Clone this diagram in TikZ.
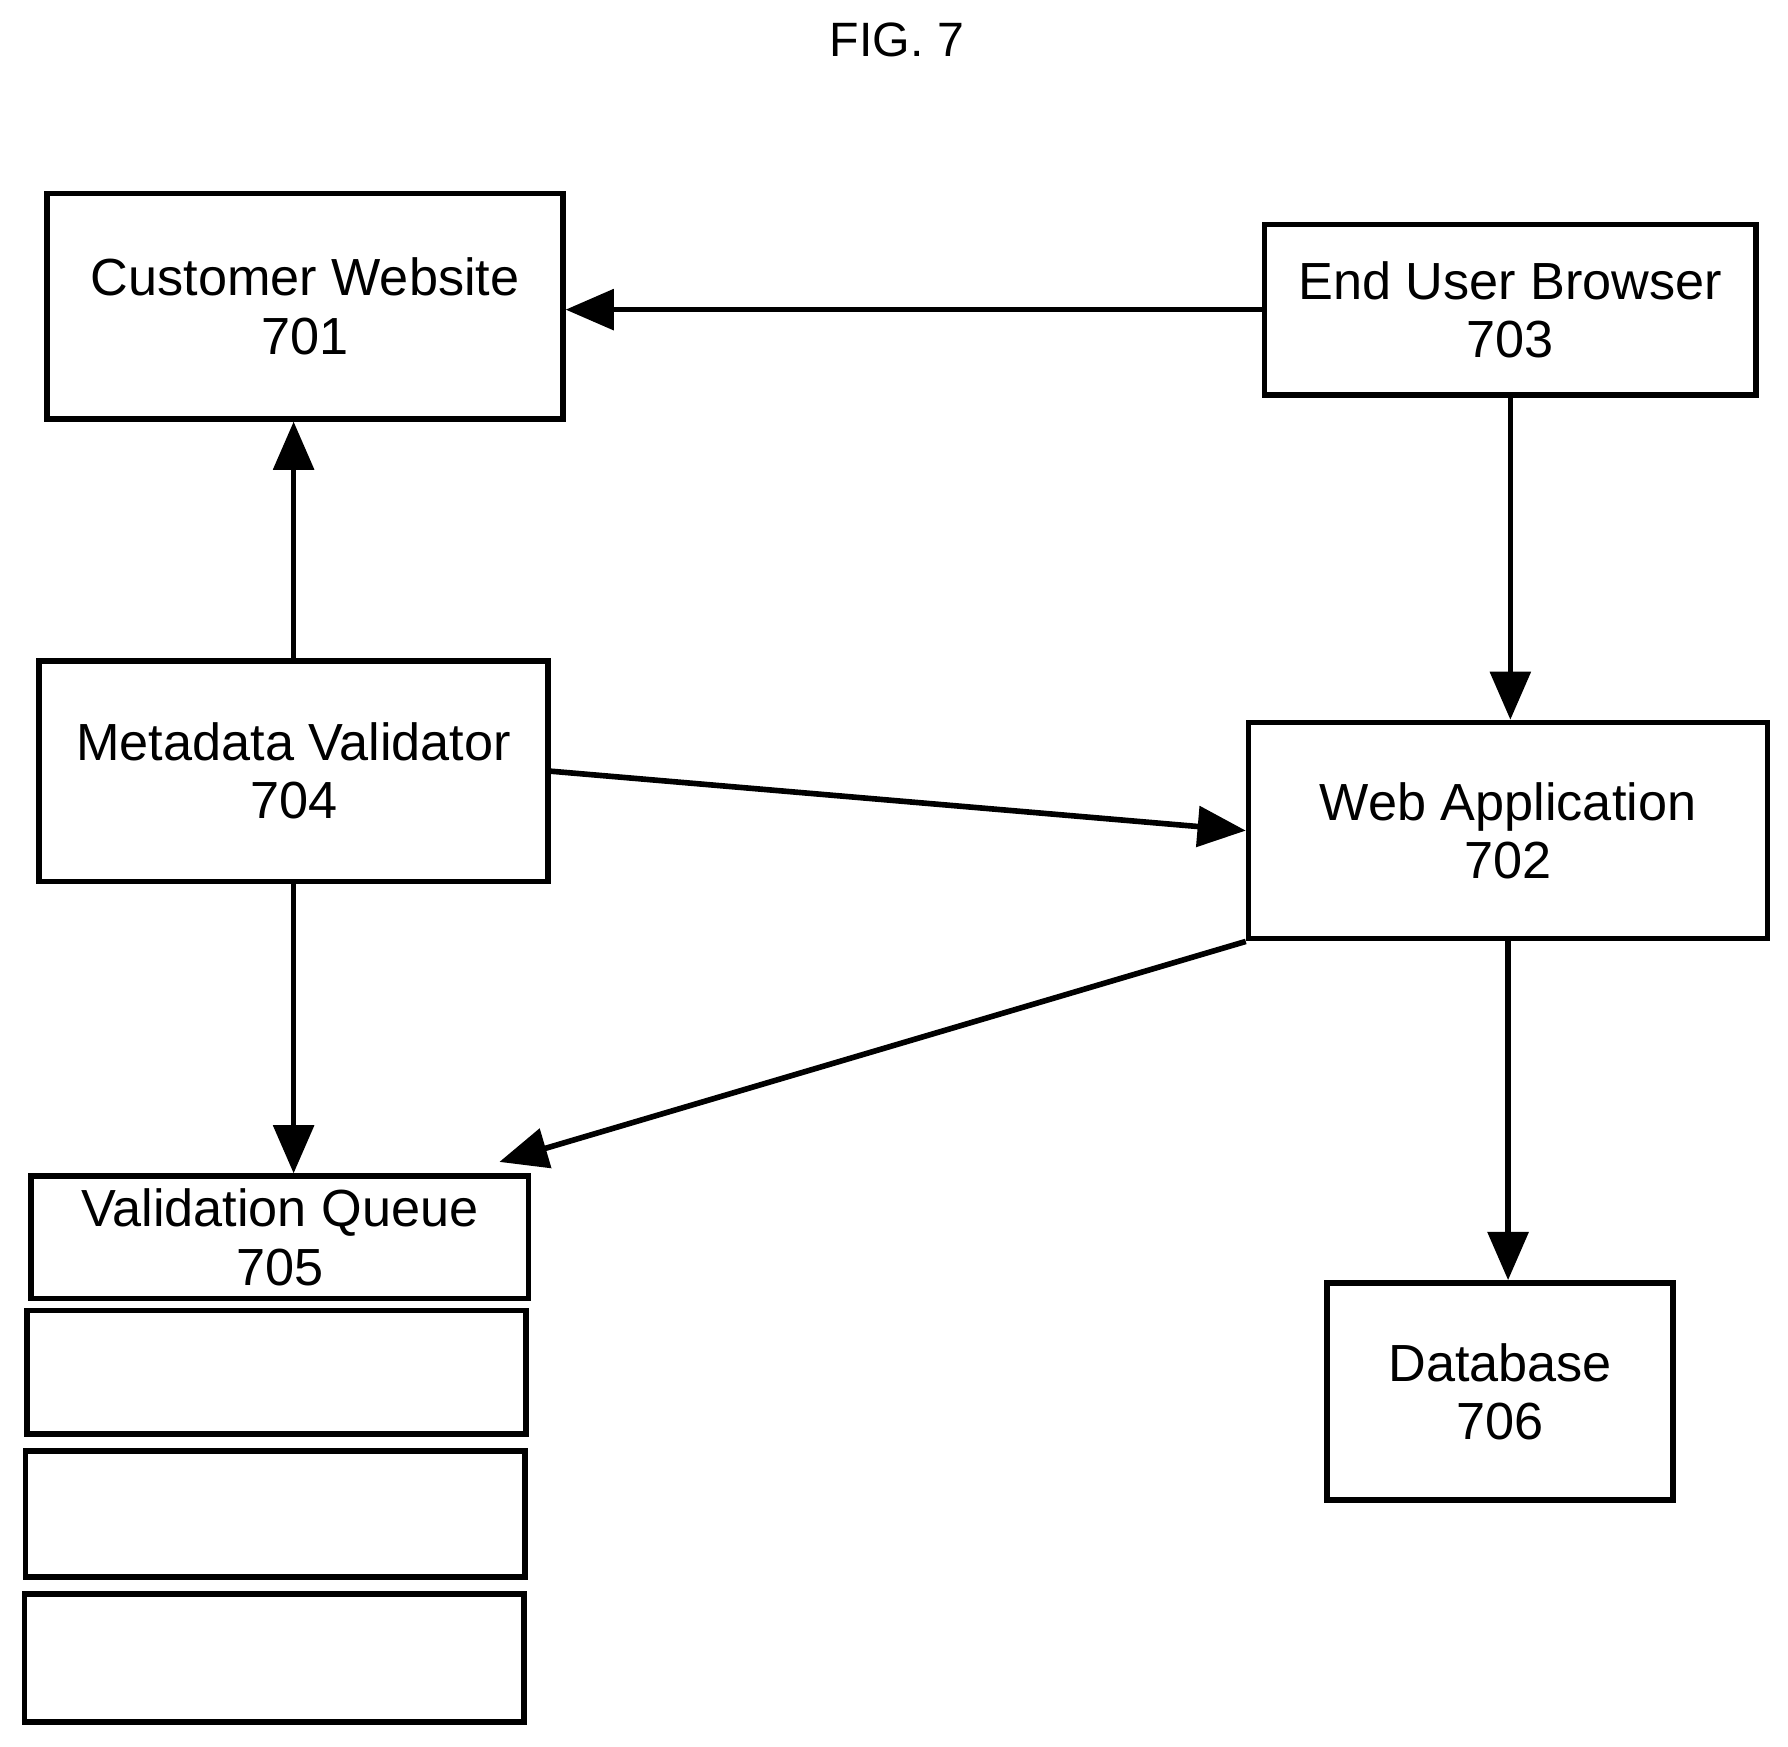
\documentclass[tikz,border=0pt]{standalone}
\usepackage{fontspec}
\setmainfont{Liberation Sans}
\usetikzlibrary{positioning}
\usetikzlibrary{calc}
\usetikzlibrary{arrows.meta}
\tikzset{
    x=0.01cm, y=-0.01cm,
    box/.style={draw,line width=1.4pt,align=center,font=\fontsize{13}{14.5}\selectfont,inner sep=0},
    link/.style={line width=1.4pt,-{Triangle[length=12pt,width=10pt]}}
}
\begin{document}
\begin{tikzpicture}
    \useasboundingbox (0,0) rectangle (1565,1529);
    \node(fig) at (785,35) {\fontsize{12}{14}\selectfont FIG. 7};
    \node(701)[box,minimum width=4.51cm,minimum height=1.97cm] at (267,268) {Customer Website\\701};
    \node(703)[box,minimum width=4.30cm,minimum height=1.49cm] at (1322,271) {End User Browser\\703};
    \node(704)[box,minimum width=4.45cm,minimum height=1.93cm] at (257,675) {Metadata Validator\\704};
    \node(702)[box,minimum width=4.54cm,minimum height=1.89cm] at (1320,727) {Web Application\\702};
    \node(705)[box,minimum width=4.35cm,minimum height=1.07cm] at (245,1083) {Validation Queue\\705};
    \node(q1)[box,minimum width=4.37cm,minimum height=1.08cm] at (242,1201) {};
    \node(q2)[box,minimum width=4.37cm,minimum height=1.10cm] at (241,1325) {};
    \node(q3)[box,minimum width=4.37cm,minimum height=1.12cm] at (240,1451) {};
    \node(706)[box,minimum width=3.03cm,minimum height=1.90cm] at (1313,1218) {Database\\706};
    \draw[link] (703.west) -- (701.east |- 703.west);
    \draw[link] (704.north) -- (701.south -| 704.north);
    \draw[link] (703.south) -- (702.north -| 703.south);
    \draw[link] (704.east) -- (702.west);
    \draw[link] (702.south west) -- ($(705.north east)+(-28,-10)$);
    \draw[link] (702.south) -- (706.north -| 702.south);
    \draw[link] (704.south) -- (705.north -| 704.south);
\end{tikzpicture}
\end{document}
